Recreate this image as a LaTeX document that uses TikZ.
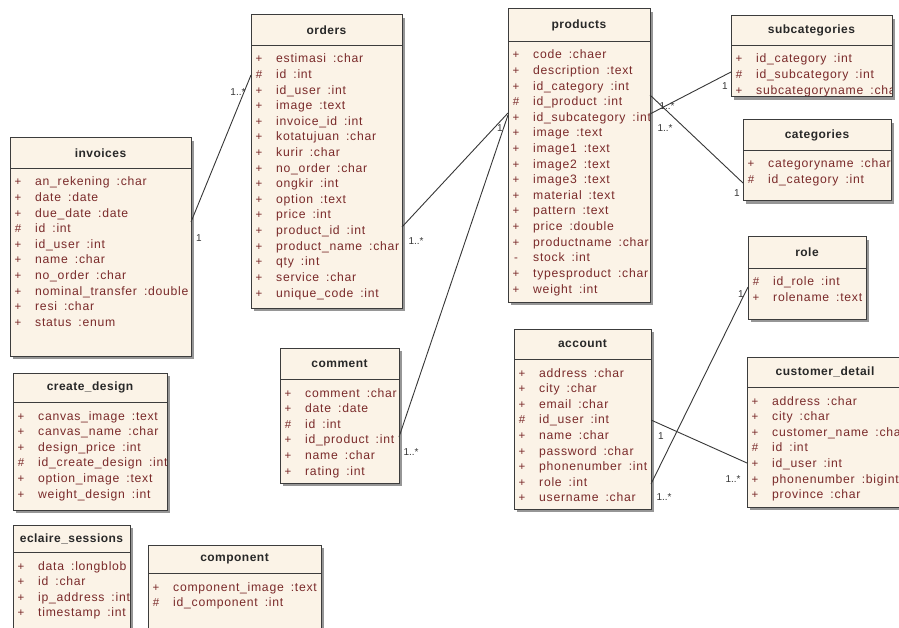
\documentclass[tikz,border=0pt]{standalone}
\usepackage{fontspec}
\setmainfont{Liberation Sans}
\usetikzlibrary{calc}
\definecolor{boxfill}{RGB}{251,243,231}
\definecolor{boxline}{RGB}{60,60,60}
\definecolor{shadowc}{RGB}{150,150,150}
\definecolor{attrc}{RGB}{122,42,42}
\definecolor{titlec}{RGB}{40,40,40}
\definecolor{connc}{RGB}{55,55,55}
\newcommand\colgap{\hspace{7pt}}
\tikzset{
  umlbox/.style={draw=boxline, fill=boxfill, line width=1pt, inner sep=0pt, outer sep=0pt, anchor=north west},
  umltitle/.style={font=\fontsize{12}{14}\selectfont\bfseries\addfontfeature{LetterSpace=4}, text=titlec, inner sep=0pt},
  umlsym/.style={font=\fontsize{11.5}{13}\selectfont, text=attrc, inner sep=0pt, anchor=center, text height=8pt, text depth=0pt},
  umlattr/.style={font=\fontsize{12.2}{14}\selectfont\addfontfeature{LetterSpace=6}, text=attrc, inner sep=0pt, anchor=west, text height=8pt, text depth=0pt},
  conn/.style={draw=connc, line width=0.9pt},
  mult/.style={font=\fontsize{10}{12}\selectfont, text=connc, inner sep=0pt},
}
% #1 name, #2 x, #3 y, #4 w, #5 h, #6 header height, #7 title, #8 rows
\newcommand\umlclass[8]{%
  \fill[shadowc] (#2+3,#3+3) rectangle ++(#4,#5);
  \node[umlbox, minimum width=#4pt, minimum height=#5pt] (#1) at (#2,#3) {};
  \begin{scope}
    \clip (#1.north west) rectangle (#1.south east);
    \node[umltitle] (#1-title) at ($(#1.north)+(0,#6/2)$) {#7};
    \foreach \s/\t [count=\i] in {#8} {
      \node[umlsym] (#1-s\i) at ($(#1.north west)+(8,#6+14+15.6*\i-15.6)$) {\s};
      \node[umlattr] (#1-a\i) at ($(#1.north west)+(25,#6+14+15.6*\i-15.6)$) {\t};
    }
  \end{scope}
  \draw[boxline, line width=1pt] (#1.north west) rectangle (#1.south east);
  \draw[boxline, line width=0.9pt] ($(#1.north west)+(0,#6)$) -- ($(#1.north east)+(0,#6)$);
}
\begin{document}
\begin{tikzpicture}[x=1pt, y=-1pt]
\useasboundingbox[fill=white] (0,0) rectangle (899,628);

\umlclass{inv}{10}{138}{181}{218}{30}{invoices}{%
  +/an\_rekening\colgap:char, +/date\colgap:date, +/due\_date\colgap:date, \#/id\colgap:int,
  +/id\_user\colgap:int, +/name\colgap:char, +/no\_order\colgap:char,
  +/nominal\_transfer\colgap:double, +/resi\colgap:char, +/status\colgap:enum}

\umlclass{ord}{251}{15}{151}{293}{30}{orders}{%
  +/estimasi\colgap:char, \#/id\colgap:int, +/id\_user\colgap:int, +/image\colgap:text,
  +/invoice\_id\colgap:int, +/kotatujuan\colgap:char, +/kurir\colgap:char,
  +/no\_order\colgap:char, +/ongkir\colgap:int, +/option\colgap:text, +/price\colgap:int,
  +/product\_id\colgap:int, +/product\_name\colgap:char, +/qty\colgap:int,
  +/service\colgap:char, +/unique\_code\colgap:int}

\umlclass{prod}{508}{9}{142}{293}{32}{products}{%
  +/code\colgap:chaer, +/description\colgap:text, +/id\_category\colgap:int,
  \#/id\_product\colgap:int, +/id\_subcategory\colgap:int, +/image\colgap:text,
  +/image1\colgap:text, +/image2\colgap:text, +/image3\colgap:text,
  +/material\colgap:text, +/pattern\colgap:text, +/price\colgap:double,
  +/productname\colgap:char, -/stock\colgap:int, +/typesproduct\colgap:char,
  +/weight\colgap:int}

\umlclass{sub}{731}{16}{161}{81}{29}{subcategories}{%
  +/id\_category\colgap:int, \#/id\_subcategory\colgap:int, +/subcategoryname\colgap:char}

\umlclass{cat}{743}{120}{148}{81}{30}{categories}{%
  +/categoryname\colgap:char, \#/id\_category\colgap:int}

\umlclass{role}{748}{237}{118}{82}{31}{role}{%
  \#/id\_role\colgap:int, +/rolename\colgap:text}

\umlclass{cust}{747}{357}{156}{150}{30}{customer\_detail}{%
  +/address\colgap:char, +/city\colgap:char, +/customer\_name\colgap:char,
  \#/id\colgap:int, +/id\_user\colgap:int, +/phonenumber\colgap:bigint,
  +/province\colgap:char}

\umlclass{acc}{514}{329}{137}{180}{30}{account}{%
  +/address\colgap:char, +/city\colgap:char, +/email\colgap:char,
  \#/id\_user\colgap:int, +/name\colgap:char, +/password\colgap:char,
  +/phonenumber\colgap:int, +/role\colgap:int, +/username\colgap:char}

\umlclass{com}{280}{348}{119}{135}{31}{comment}{%
  +/comment\colgap:char, +/date\colgap:date, \#/id\colgap:int,
  +/id\_product\colgap:int, +/name\colgap:char, +/rating\colgap:int}

\umlclass{cd}{13}{373}{154}{137}{29}{create\_design}{%
  +/canvas\_image\colgap:text, +/canvas\_name\colgap:char, +/design\_price\colgap:int,
  \#/id\_create\_design\colgap:int, +/option\_image\colgap:text,
  +/weight\_design\colgap:int}

\umlclass{es}{13}{525}{117}{120}{27}{eclaire\_sessions}{%
  +/data\colgap:longblob, +/id\colgap:char, +/ip\_address\colgap:int,
  +/timestamp\colgap:int}

\umlclass{comp}{148}{545}{173}{100}{28}{component}{%
  +/component\_image\colgap:text, \#/id\_component\colgap:int}

% connectors
\draw[conn] ([yshift=-84pt]inv.north east) -- ([yshift=-60pt]ord.north west);
\draw[conn] ([yshift=-212pt]ord.north east) -- ([yshift=-104pt]prod.north west);
\draw[conn] ([yshift=-89pt]com.north east) -- ([yshift=-106pt]prod.north west);
\draw[conn] ([yshift=-105pt]prod.north east) -- ([yshift=-56pt]sub.north west);
\draw[conn] ([yshift=-86pt]prod.north east) -- ([yshift=-63pt]cat.north west);
\draw[conn] ([yshift=-155pt]acc.north east) -- ([yshift=-50pt]role.north west);
\draw[conn] ([yshift=-91pt]acc.north east) -- ([yshift=-106pt]cust.north west);

% multiplicities
\node[mult] (m1a) at (238,92) {1..*};
\node[mult] (m1b) at (199,238) {1};
\node[mult] (m2a) at (416,241) {1..*};
\node[mult] (m2b) at (500,128) {1};
\node[mult] (m3a) at (411,452) {1..*};
\node[mult] (m4a) at (667,106) {1..*};
\node[mult] (m4b) at (725,86) {1};
\node[mult] (m5a) at (665,128) {1..*};
\node[mult] (m5b) at (737,193) {1};
\node[mult] (m6a) at (664,497) {1..*};
\node[mult] (m6b) at (741,294) {1};
\node[mult] (m7a) at (661,436) {1};
\node[mult] (m7b) at (733,479) {1..*};
\end{tikzpicture}
\end{document}
